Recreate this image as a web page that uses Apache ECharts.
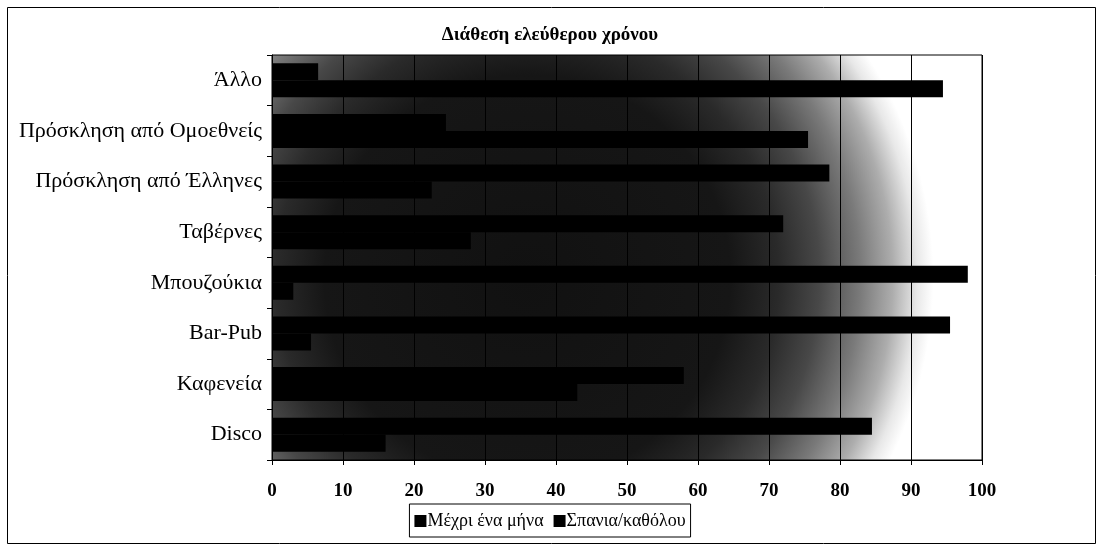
<!DOCTYPE html>
<html>
<head>
<meta charset="utf-8">
<title>Διάθεση ελεύθερου χρόνου</title>
<script src="https://cdn.jsdelivr.net/npm/echarts@6/dist/echarts.min.js"></script>
<style>
  html, body { margin: 0; padding: 0; background: #fff; }
  #chart { width: 1100px; height: 546px; }
</style>
</head>
<body>
<div id="chart"></div>
<script>
// κατηγορίες από κάτω προς τα πάνω
const categories = [
  "Disco",
  "Καφενεία",
  "Bar-Pub",
  "Μπουζούκια",
  "Ταβέρνες",
  "Πρόσκληση από Έλληνες",
  "Πρόσκληση από Ομοεθνείς",
  "Άλλο",
];
const seriesNames = ["Μέχρι ένα μήνα", "Σπανια/καθόλου"];
const monthValues = [16, 43, 5.5, 3, 28, 22.5, 75.5, 94.5];
const rarelyValues = [84.5, 58, 95.5, 98, 72, 78.5, 24.5, 6.5];
const xTicks = [0, 10, 20, 30, 40, 50, 60, 70, 80, 90, 100];

const serif = "'Liberation Serif', 'DejaVu Serif', serif";

const chart = echarts.init(document.getElementById("chart"), null, { renderer: "canvas" });

const barStyle = { color: "#000" };

const option = {
  backgroundColor: "#fff",
  animation: false,
  title: {
    text: "Διάθεση ελεύθερου χρόνου",
    left: "center",
    top: 21,
    textStyle: { fontFamily: serif, fontSize: 19, fontWeight: "bold", color: "#000" },
  },
  legend: {
    bottom: 9,
    left: "center",
    data: seriesNames,
    icon: "rect",
    itemWidth: 12,
    itemHeight: 12,
    itemGap: 10,
    padding: [8, 5, 7, 5],
    borderColor: "#000",
    borderWidth: 1,
    textStyle: { fontFamily: serif, fontSize: 18, color: "#000", padding: [0, 0, 0, -4] },
  },
  grid: {
    left: 272,
    right: 118,
    top: 55,
    bottom: 86,
    show: true,
    borderColor: "#000",
    borderWidth: 1,
    backgroundColor: {
      type: "radial",
      x: 0.36,
      y: 0.55,
      r: 1,
      colorStops: [
        { offset: 0, color: "#111" },
        { offset: 0.5, color: "#161616" },
        { offset: 0.62, color: "#2a2a2a" },
        { offset: 0.72, color: "#484848" },
        { offset: 0.82, color: "#7a7a7a" },
        { offset: 0.9, color: "#adadad" },
        { offset: 0.96, color: "#e8e8e8" },
        { offset: 1, color: "#fff" },
      ],
    },
  },
  xAxis: {
    type: "value",
    min: 0,
    max: 100,
    interval: 10,
    axisLine: { show: true, lineStyle: { color: "#000", width: 1 } },
    axisTick: { show: true, length: 5, lineStyle: { color: "#000" } },
    splitLine: { show: true, lineStyle: { color: "#000", width: 1 } },
    axisLabel: {
      margin: 22,
      fontFamily: serif,
      fontSize: 19,
      fontWeight: "bold",
      color: "#000",
      formatter: (v) => (xTicks.includes(v) ? String(v) : ""),
    },
  },
  yAxis: {
    type: "category",
    data: categories,
    axisLine: { show: true, lineStyle: { color: "#000", width: 1 } },
    axisTick: { show: true, length: 5, lineStyle: { color: "#000" } },
    axisLabel: { margin: 10, fontFamily: serif, fontSize: 22, color: "#000" },
  },
  // στο ECharts η πρώτη σειρά μπαίνει πάνω, άρα η "Σπανια/καθόλου" πρώτη
  series: [
    {
      name: seriesNames[1],
      type: "bar",
      data: rarelyValues,
      itemStyle: barStyle,
      barGap: "0%",
      barCategoryGap: "33%",
    },
    {
      name: seriesNames[0],
      type: "bar",
      data: monthValues,
      itemStyle: barStyle,
      barGap: "0%",
      barCategoryGap: "33%",
    },
  ],
  graphic: [
    {
      type: "rect",
      left: 5,
      top: 5,
      shape: { width: 1088, height: 536 },
      style: { fill: "none", stroke: "#000", lineWidth: 1 },
      silent: true,
      z: -1,
    },
  ],
};

chart.setOption(option);
</script>
</body>
</html>
